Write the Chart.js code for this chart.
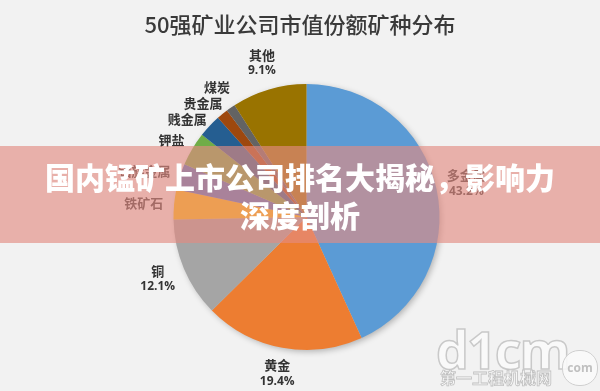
<!DOCTYPE html>
<html><head><meta charset="utf-8">
<script src="https://cdn.jsdelivr.net/npm/chart.js@4.4.1/dist/chart.umd.min.js"></script>
<style>
html,body{margin:0;padding:0;background:#F2F2F2;}
#wrap{position:relative;width:600px;height:391px;overflow:hidden;background:#F2F2F2;}
#c{position:absolute;left:0;top:0;}
#banner{position:absolute;left:0;top:146px;width:600px;height:97px;background:rgba(227,140,130,0.64);display:flex;flex-direction:column;justify-content:center;align-items:center;}
#banner div{color:#fff;font-family:"Noto Sans CJK SC";font-weight:900;font-size:30px;line-height:38px;white-space:nowrap;}
#wm1{position:absolute;left:436px;top:319px;font-family:"Open Sans";font-weight:700;font-size:52px;letter-spacing:-2px;color:rgba(250,250,250,0.9);-webkit-text-stroke:1.5px #c9c9c9;line-height:60px;}
#wm2{position:absolute;left:440px;top:368px;font-family:"Noto Sans CJK SC";font-weight:700;font-size:16px;color:rgba(250,250,250,0.9);-webkit-text-stroke:0.8px #c0c0c0;line-height:18px;}
#wm3{position:absolute;left:562px;top:350px;width:34px;height:34px;border-radius:17px;border:1.5px solid #cfcfcf;background:rgba(250,250,250,0.9);font-family:"Open Sans";font-weight:700;font-size:12px;color:#c0c0c0;text-align:center;line-height:34px;}
</style></head>
<body>
<div id="wrap">
<canvas id="c" width="600" height="391"></canvas>
<div id="banner"><div>国内锰矿上市公司排名大揭秘，影响力</div><div>深度剖析</div></div>
<div id="wm1">d1cm</div>
<div id="wm2">第一工程机械网</div>
<div id="wm3">com</div>
</div>
<script>
const titleText = "50强矿业公司市值份额矿种分布";
const categories = ["多金属","黄金","铜","铁矿石","铂族金属","钾盐","贱金属","贵金属","煤炭","其他"];
const shares = [43.2, 19.4, 12.1, 3.6, 3.2, 4.1, 2.8, 1.4, 1.1, 9.1];
const sliceColors = ["#5B9BD5","#ED7D31","#A5A5A5","#FFC000","#4472C4","#70AD47","#255E91","#9E480E","#636363","#997300"];

const shadowPlugin = {
  id: 'pieShadow',
  beforeDatasetsDraw(chart) {
    const arc = chart.getDatasetMeta(0).data[0];
    if (!arc) return;
    const ctx = chart.ctx;
    ctx.save();
    ctx.shadowColor = 'rgba(0,0,0,0.28)';
    ctx.shadowBlur = 6;
    ctx.shadowOffsetX = 2;
    ctx.shadowOffsetY = 2;
    ctx.fillStyle = '#cccccc';
    ctx.beginPath();
    ctx.arc(arc.x, arc.y, arc.outerRadius - 0.5, 0, Math.PI * 2);
    ctx.fill();
    ctx.restore();
  }
};

const labelPlugin = {
  id: 'outLabels',
  afterDatasetsDraw(chart) {
    const ctx = chart.ctx;
    const meta = chart.getDatasetMeta(0);
    const nameFont = 'bold 13px "Noto Sans CJK SC"';
    const pctFont = 'bold 12px "Open Sans"';
    const items = [];
    meta.data.forEach((arc, i) => {
      const mid = (arc.startAngle + arc.endAngle) / 2;
      const ux = Math.cos(mid), uy = Math.sin(mid);
      const showPct = shares[i] >= 5;
      const name = categories[i];
      const pct = shares[i].toFixed(1) + '%';
      ctx.font = nameFont;
      let w = ctx.measureText(name).width;
      if (showPct) { ctx.font = pctFont; w = Math.max(w, ctx.measureText(pct).width); }
      const h = showPct ? 30 : 14;
      const R = arc.outerRadius + 11;
      items.push({ name, pct, showPct, w, h,
        x: arc.x + ux * R + ux * w / 2,
        y: arc.y + uy * R + uy * h / 2,
        left: ux < 0 });
    });
    // spread overlapping labels vertically on each side
    [true, false].forEach(side => {
      const grp = items.filter(it => it.left === side).sort((a, b) => a.y - b.y);
      for (let iter = 0; iter < 60; iter++) {
        let moved = false;
        for (let k = 0; k < grp.length - 1; k++) {
          const a = grp[k], b = grp[k + 1];
          const need = (a.h + b.h) / 2 + 2;
          const gap = b.y - a.y;
          if (gap < need - 0.01) {
            const d = (need - gap) / 2;
            a.y -= d; b.y += d; moved = true;
          }
        }
        if (!moved) break;
      }
    });
    ctx.save();
    ctx.textAlign = 'center';
    ctx.textBaseline = 'middle';
    ctx.fillStyle = '#333333';
    items.forEach(it => {
      if (it.showPct) {
        ctx.font = nameFont; ctx.fillText(it.name, it.x, it.y - 8);
        ctx.font = pctFont; ctx.fillText(it.pct, it.x, it.y + 8);
      } else {
        ctx.font = nameFont; ctx.fillText(it.name, it.x, it.y);
      }
    });
    ctx.font = '500 22px "Noto Sans CJK SC"';
    ctx.fillStyle = '#3a3a3a';
    ctx.fillText(titleText, 300, 25);
    ctx.restore();
  }
};

new Chart(document.getElementById('c'), {
  type: 'pie',
  data: {
    labels: categories,
    datasets: [{ data: shares, backgroundColor: sliceColors, borderWidth: 0 }]
  },
  options: {
    responsive: false,
    animation: false,
    layout: { padding: { top: 84, bottom: 41, left: 13, right: 0 } },
    plugins: { legend: { display: false }, tooltip: { enabled: false }, title: { display: false } }
  },
  plugins: [shadowPlugin, labelPlugin]
});
</script>
</body></html>
